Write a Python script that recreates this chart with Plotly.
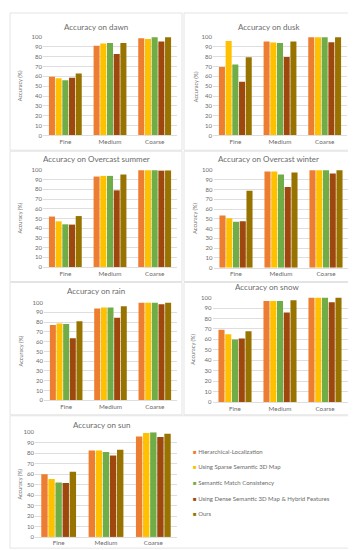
import plotly.graph_objects as go

W, H = 356, 550

categories = ["Fine", "Medium", "Coarse"]
series_names = [
    "Hierarchical-Localization",
    "Using Sparse Semantic 3D Map",
    "Semantic Match Consistency",
    "Using Dense Semantic 3D Map & Hybrid Features",
    "Ours",
]
series_colors = ["#ED7D31", "#FFC000", "#70AD47", "#9E480E", "#997300"]

# values per condition: one list per series, in series_names order (Fine, Medium, Coarse)
dawn_values = [[59.5, 91, 98.7], [58, 93.3, 98], [56, 94, 99.7], [58.5, 82.6, 95.3], [63, 94, 99.7]]
dusk_values = [[69.6, 95.3, 99.7], [96, 94.3, 99.7], [72, 94, 99.7], [54.5, 79.6, 94.6], [79.3, 95.3, 99.7]]
summer_values = [[52, 93.2, 99.7], [47.1, 93.9, 99.7], [44, 93.9, 99.7], [43.7, 79, 99.3], [52.5, 95.3, 99.5]]
winter_values = [[53.5, 98.3, 99.7], [50.5, 98.3, 99.7], [47.1, 95.3, 99.7], [47.5, 82.5, 96.3], [78.8, 97.3, 99.7]]
rain_values = [[77.1, 93.9, 100], [78.5, 94.9, 100], [78.1, 94.9, 100], [63.6, 84.5, 98.3], [80.8, 96.3, 100]]
snow_values = [[69.1, 96.8, 100], [65, 96.8, 100], [59.9, 96.8, 100], [60.9, 85.8, 95.6], [67.8, 97.5, 100]]
sun_values = [[60, 82.7, 95.9], [55.3, 82.7, 99.4], [51.9, 81.1, 100], [51.6, 77.7, 95.6], [62.3, 83.3, 98.7]]

y_ticks = [0, 10, 20, 30, 40, 50, 60, 70, 80, 90, 100]


def xp(px):
    return px / W


def yp(py):
    return 1 - py / H


# (title, values, x0, x1, ytop, ybottom, title_x, title_y, ytitle_x)
panels = [
    ("Accuracy on dawn", dawn_values, 35, 169, 25.3, 125, 88, 15, 12),
    ("Accuracy on dusk", dusk_values, 205, 339, 25.3, 125, 261, 15, 188),
    ("Accuracy on Overcast summer", summer_values, 35, 169, 160, 258.3, 88, 149, 12),
    ("Accuracy on Overcast winter", winter_values, 205.5, 340.5, 160, 259, 260, 149, 187),
    ("Accuracy on rain", rain_values, 36, 169, 294.3, 393.3, 88, 283, 13),
    ("Accuracy on snow", snow_values, 204.5, 339.5, 289.3, 395, 259, 279, 185),
    ("Accuracy on sun", sun_values, 27, 169, 425.7, 531.7, 94, 418, 12),
]

FONT = "Lato"
GRAY = "#6b6b6b"
GRID = "#DEDEDE"
BORDER = "#E4E4E4"

fig = go.Figure()
annotations = []
layout_axes = {}

for i, (title, vals, x0, x1, yt, yb, tx, ty, ytx) in enumerate(panels):
    n = "" if i == 0 else str(i + 1)
    for s, name in enumerate(series_names):
        fig.add_trace(go.Bar(
            x=categories, y=vals[s], name=name,
            marker=dict(color=series_colors[s], line=dict(width=0)),
            xaxis="x" + n, yaxis="y" + n, showlegend=False,
        ))
    layout_axes["xaxis" + n] = dict(
        domain=[xp(x0), xp(x1)], anchor="y" + n, type="category",
        showline=True, linecolor=GRID, linewidth=1, ticks="",
        tickfont=dict(size=6.3, color=GRAY, family=FONT), showgrid=False,
        fixedrange=True,
    )
    layout_axes["yaxis" + n] = dict(
        domain=[yp(yb), yp(yt)], anchor="x" + n, range=[0, 100],
        tickvals=y_ticks, showgrid=True, gridcolor=GRID, gridwidth=0.8,
        zeroline=False, showline=False, ticks="",
        tickfont=dict(size=6, color=GRAY, family=FONT),
        fixedrange=True,
    )
    annotations.append(dict(
        text=title, x=xp(tx), y=yp(ty), xref="paper", yref="paper",
        showarrow=False, xanchor="center", yanchor="middle",
        font=dict(size=8, color=GRAY, family=FONT),
    ))
    annotations.append(dict(
        text="Accuracy (%)", x=xp(ytx), y=yp((yt + yb) / 2), xref="paper", yref="paper",
        showarrow=False, xanchor="center", yanchor="middle", textangle=-90,
        font=dict(size=5.5, color=GRAY, family=FONT),
    ))

# legend (drawn as text entries)
legend_y = [445, 460.7, 476.3, 492.3, 508.3]
for s, name in enumerate(series_names):
    annotations.append(dict(
        text='<span style="color:%s">■</span> %s' % (series_colors[s], name),
        x=xp(183), y=yp(legend_y[s]), xref="paper", yref="paper",
        showarrow=False, xanchor="left", yanchor="middle",
        font=dict(size=6, color=GRAY, family=FONT),
    ))

# panel borders
boxes = [
    (2, 1, 174, 140), (176, 1, 345, 140),
    (2, 141, 174, 273), (176, 141, 345, 273),
    (2, 274, 174, 408), (176, 274, 345, 408),
    (2, 409, 345, 543),
]
shapes = []
for (bx0, by0, bx1, by1) in boxes:
    shapes.append(dict(
        type="rect", xref="paper", yref="paper",
        x0=xp(bx0), x1=xp(bx1), y0=yp(by1), y1=yp(by0),
        line=dict(color=BORDER, width=1), fillcolor="rgba(0,0,0,0)", layer="below",
    ))

fig.update_layout(
    width=W, height=H,
    margin=dict(l=0, r=0, t=0, b=0),
    paper_bgcolor="white", plot_bgcolor="white",
    barmode="group", bargap=0.25, bargroupgap=0.1,
    showlegend=False,
    annotations=annotations, shapes=shapes,
    font=dict(family=FONT, color=GRAY),
    **layout_axes,
)

fig.write_html("out.html", config={"displayModeBar": False})
